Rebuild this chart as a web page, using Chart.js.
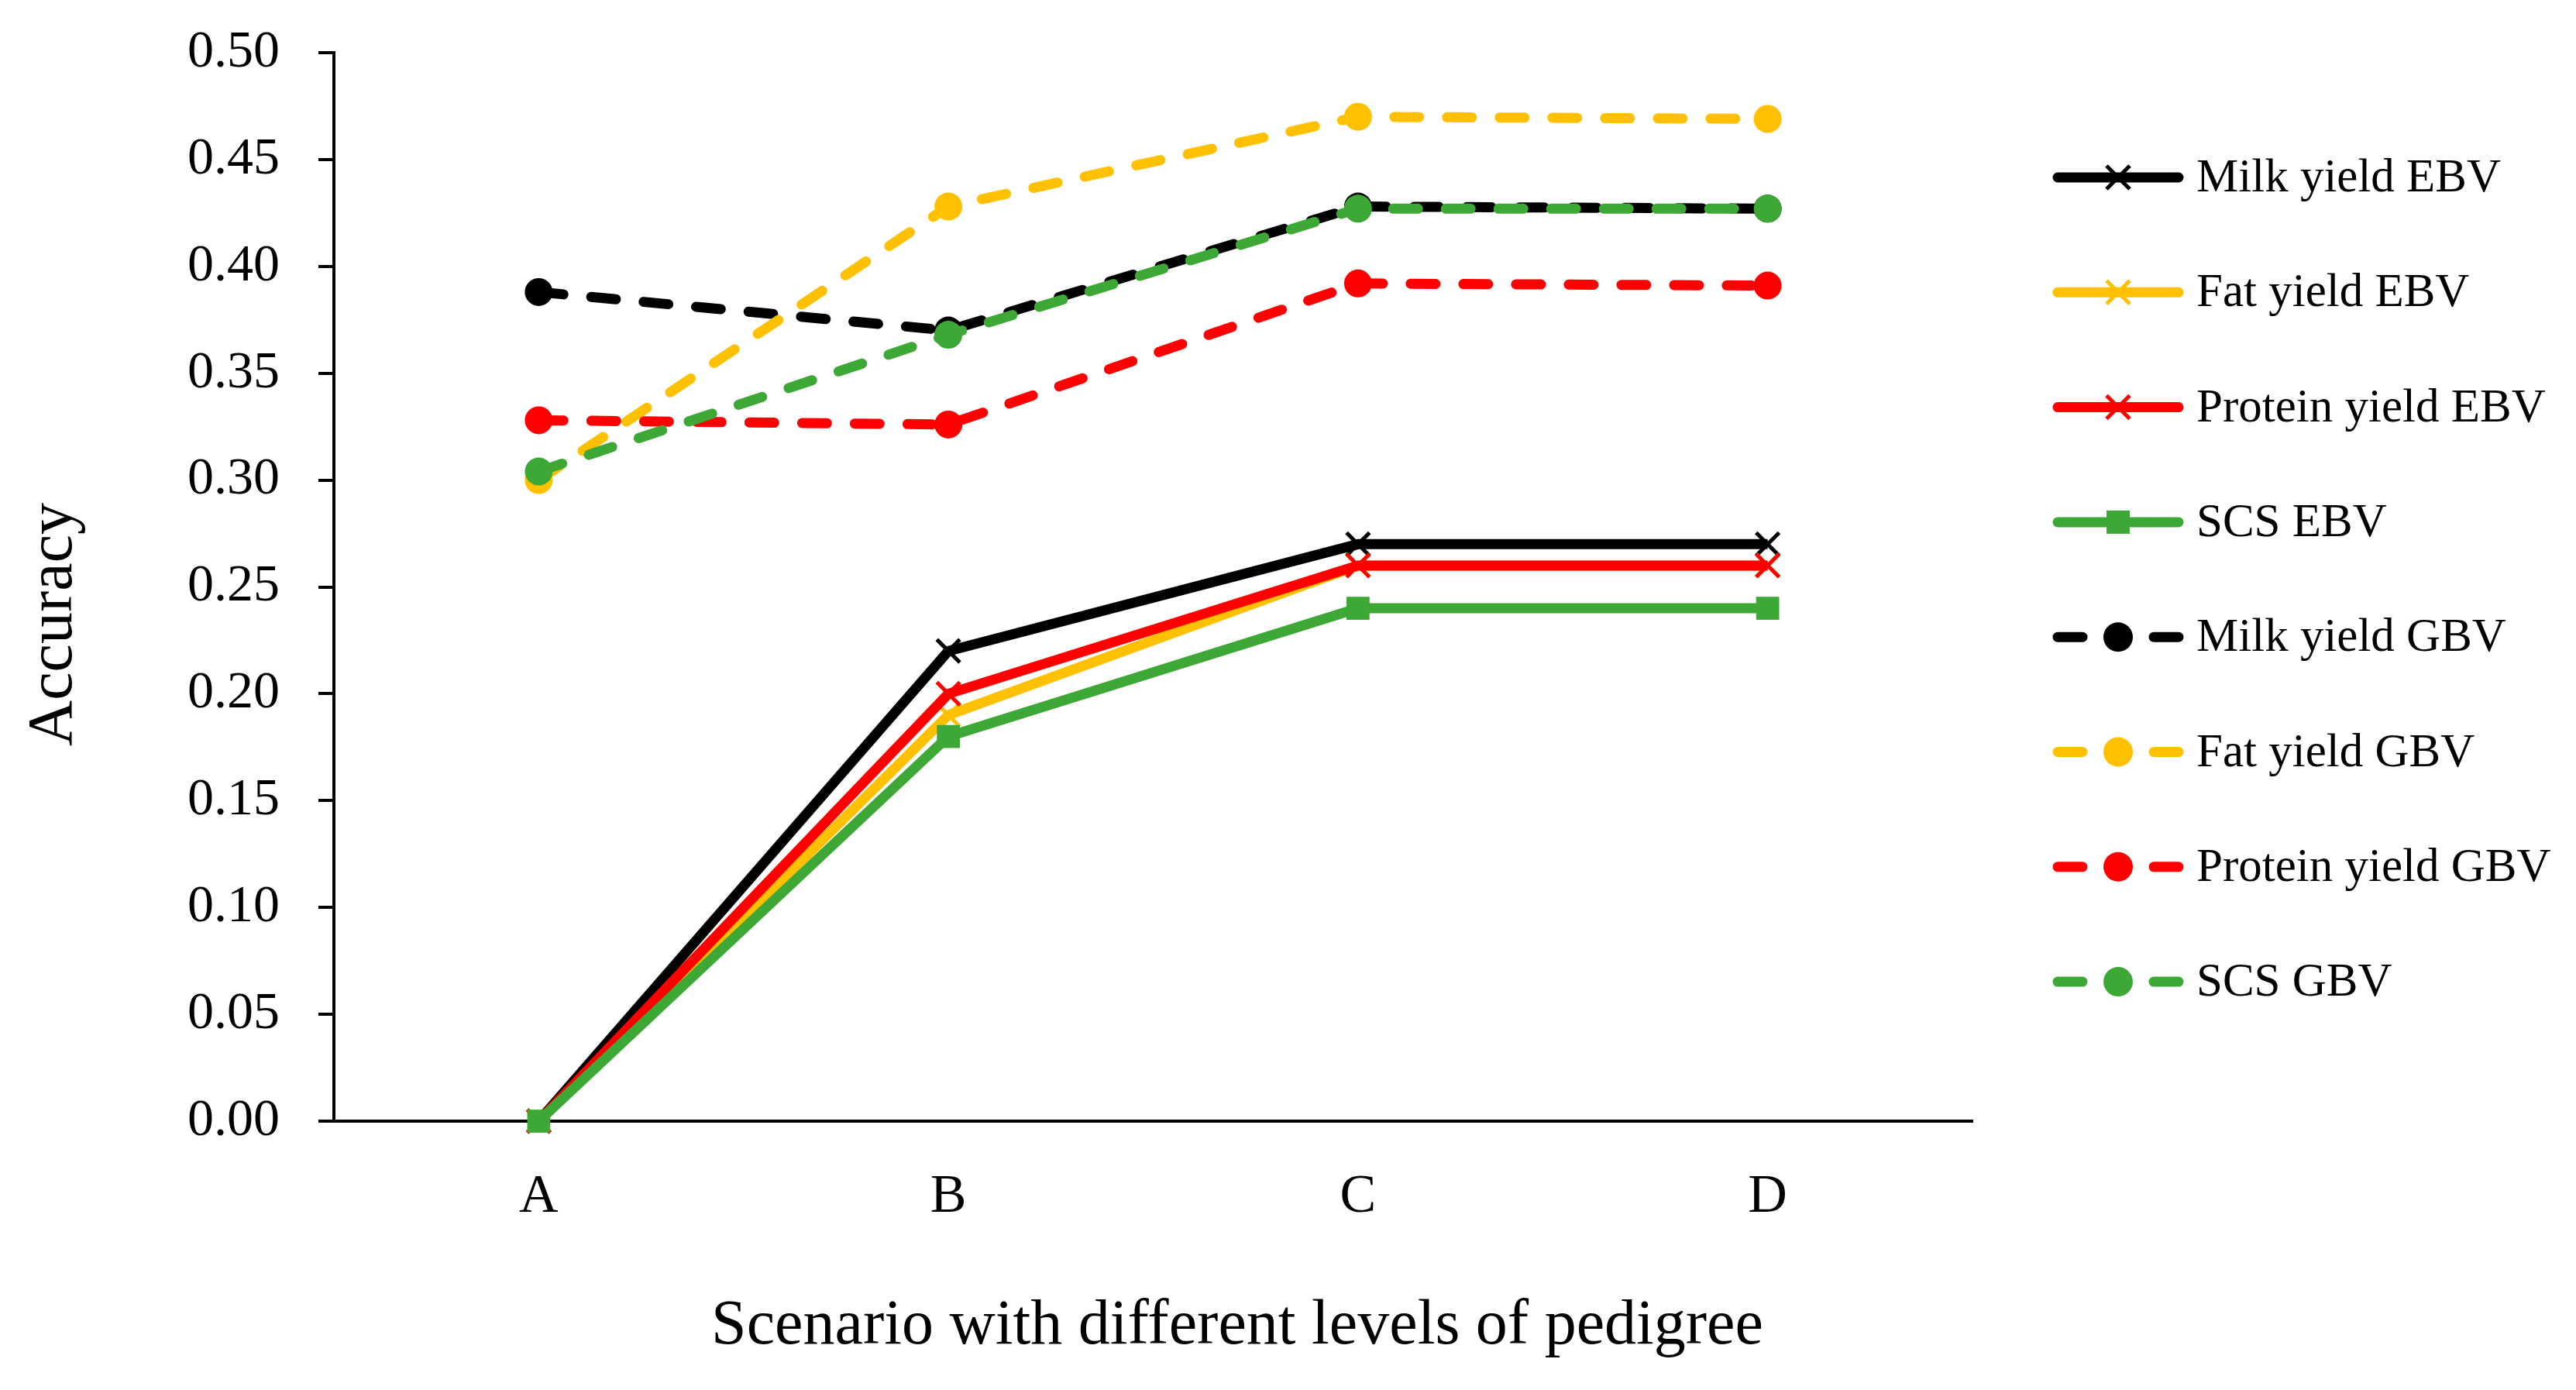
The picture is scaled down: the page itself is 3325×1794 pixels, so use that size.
<!DOCTYPE html>
<html>
<head>
<meta charset="utf-8">
<script src="https://cdn.jsdelivr.net/npm/chart.js@4.4.1/dist/chart.umd.min.js"></script>
<style>
  html, body { margin: 0; padding: 0; background: #fff; }
  #wrap { width: 3325px; height: 1794px; }
</style>
</head>
<body>
<div id="wrap"><canvas id="accuracyChart"></canvas></div>
<script>
// Scenarios on the x axis
const scenarios = ['A', 'B', 'C', 'D'];

// Accuracy values
const milkEBV    = [0.00, 0.22, 0.27, 0.27];
const fatEBV     = [0.00, 0.19, 0.26, 0.26];
const proteinEBV = [0.00, 0.20, 0.26, 0.26];
const scsEBV     = [0.00, 0.18, 0.24, 0.24];
const milkGBV    = [0.388, 0.370, 0.428, 0.427];
const fatGBV     = [0.300, 0.428, 0.470, 0.469];
const proteinGBV = [0.328, 0.326, 0.392, 0.391];
const scsGBV     = [0.304, 0.368, 0.427, 0.427];

const seriesNames = ['Milk yield EBV', 'Fat yield EBV', 'Protein yield EBV', 'SCS EBV',
                     'Milk yield GBV', 'Fat yield GBV', 'Protein yield GBV', 'SCS GBV'];

const BLACK = '#000000', YELLOW = '#FFC000', RED = '#FF0000', GREEN = '#3DA835';
const FONT = "'Liberation Serif', 'Times New Roman', serif";
const LINE_W = 13;

function ebv(label, data, color, style) {
  const isRect = style === 'rect';
  return {
    label, data,
    borderColor: color, backgroundColor: color,
    borderWidth: LINE_W,
    pointStyle: style,
    pointRadius: 21,
    pointBorderWidth: isRect ? 0 : 5,
    pointBackgroundColor: color, pointBorderColor: color,
    clip: false,
    tension: 0
  };
}

function gbv(label, data, color) {
  return {
    label, data,
    borderColor: color, backgroundColor: color,
    borderWidth: LINE_W,
    borderDash: [32, 36],
    borderCapStyle: 'round',
    pointStyle: 'circle',
    pointRadius: 18,
    pointBorderWidth: 0,
    pointBackgroundColor: color,
    clip: false,
    tension: 0
  };
}

const datasets = [
  ebv(seriesNames[0], milkEBV, BLACK, 'crossRot'),
  ebv(seriesNames[1], fatEBV, YELLOW, 'crossRot'),
  ebv(seriesNames[2], proteinEBV, RED, 'crossRot'),
  ebv(seriesNames[3], scsEBV, GREEN, 'rect'),
  gbv(seriesNames[4], milkGBV, BLACK),
  gbv(seriesNames[5], fatGBV, YELLOW),
  gbv(seriesNames[6], proteinGBV, RED),
  gbv(seriesNames[7], scsGBV, GREEN)
];
// later series are painted on top, like the original
datasets.forEach((d, i) => { d.order = datasets.length - i; });

// legend on the right and the two axis titles
const decorations = {
  id: 'decorations',
  afterDraw(chart) {
    const ctx = chart.ctx;
    ctx.save();

    // axis titles
    ctx.fillStyle = '#000';
    ctx.font = '82px ' + FONT;
    ctx.textAlign = 'center';
    ctx.textBaseline = 'middle';
    ctx.fillText('Scenario with different levels of pedigree', 1597, 1712);
    ctx.save();
    ctx.translate(70, 806);
    ctx.rotate(-Math.PI / 2);
    ctx.fillText('Accuracy', 0, 0);
    ctx.restore();

    // legend
    const x0 = 2650, x1 = 2818, xm = 2734;
    const top = 229, step = 148.3;
    chart.data.datasets.forEach((ds, i) => {
      const y = top + i * step;
      ctx.strokeStyle = ds.borderColor;
      ctx.fillStyle = ds.borderColor;
      ctx.lineWidth = LINE_W;
      ctx.lineCap = 'round';
      ctx.setLineDash([]);
      ctx.beginPath();
      if (ds.borderDash) {
        ctx.moveTo(x0 + 6, y); ctx.lineTo(x0 + 38, y);
        ctx.moveTo(x1 - 38, y); ctx.lineTo(x1 - 6, y);
      } else {
        ctx.moveTo(x0 + 6, y); ctx.lineTo(x1 - 6, y);
      }
      ctx.stroke();

      if (ds.pointStyle === 'circle') {
        ctx.beginPath();
        ctx.arc(xm, y, 19, 0, Math.PI * 2);
        ctx.fill();
      } else if (ds.pointStyle === 'rect') {
        ctx.fillRect(xm - 15, y - 15, 30, 30);
      } else {
        const r = 15;
        ctx.lineWidth = 5;
        ctx.lineCap = 'butt';
        ctx.beginPath();
        ctx.moveTo(xm - r, y - r); ctx.lineTo(xm + r, y + r);
        ctx.moveTo(xm - r, y + r); ctx.lineTo(xm + r, y - r);
        ctx.stroke();
      }

      ctx.fillStyle = '#000';
      ctx.font = '61px ' + FONT;
      ctx.textAlign = 'left';
      ctx.textBaseline = 'middle';
      ctx.fillText(ds.label, 2835, y + 2);
    });
    ctx.restore();
  }
};

new Chart(document.getElementById('accuracyChart'), {
  type: 'line',
  data: { labels: scenarios, datasets },
  plugins: [decorations],
  options: {
    responsive: true,
    maintainAspectRatio: false,
    animation: false,
    devicePixelRatio: 1,
    layout: { padding: { top: 68, right: 779, bottom: 0, left: 0 } },
    plugins: {
      legend: { display: false },
      tooltip: { enabled: false },
      title: { display: false }
    },
    scales: {
      x: {
        offset: true,
        grid: { display: false, drawTicks: false },
        border: { display: true, color: '#000', width: 4 },
        ticks: { color: '#000', font: { family: FONT, size: 70 }, padding: 57 },
        afterFit(scale) { scale.height = 347; scale.paddingLeft = 0; scale.paddingRight = 0; }
      },
      y: {
        min: 0,
        max: 0.5,
        ticks: {
          stepSize: 0.05,
          color: '#000',
          font: { family: FONT, size: 68 },
          padding: 50,
          callback: v => v.toFixed(2)
        },
        grid: { display: true, drawOnChartArea: false, drawTicks: true, tickLength: 20, color: '#000', lineWidth: 4 },
        border: { display: true, color: '#000', width: 4 },
        afterFit(scale) { scale.width = 431; scale.paddingTop = 0; scale.paddingBottom = 0; }
      }
    }
  }
});
</script>
</body>
</html>
